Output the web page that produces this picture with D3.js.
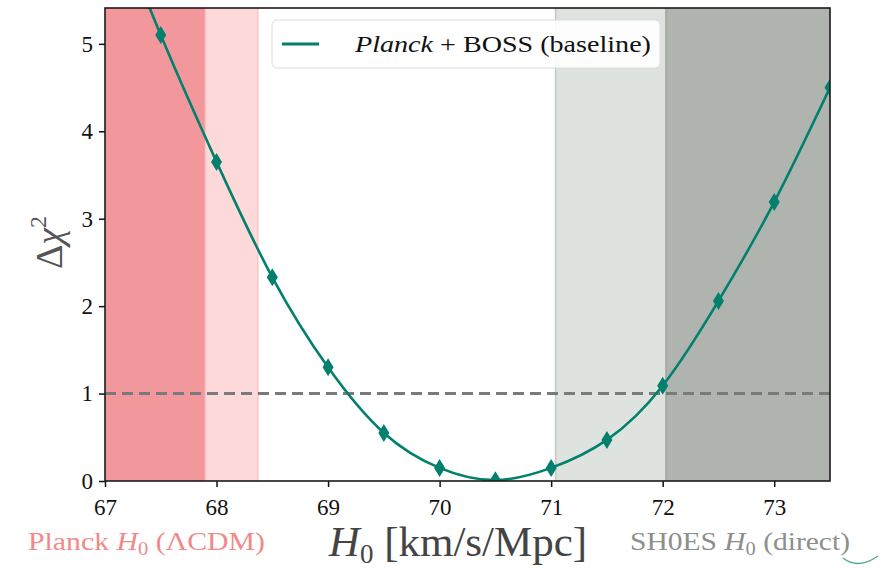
<!DOCTYPE html>
<html>
<head>
<meta charset="utf-8">
<script src="https://cdn.jsdelivr.net/npm/d3@7"></script>
<style>
  body { margin: 0; background: #fff; }
  svg { display: block; }
</style>
</head>
<body>
<svg id="chart" width="886" height="572"></svg>
<script>
// Profile likelihood scan in H0
const h0Grid    = [67.5, 68.0, 68.5, 69.0, 69.5, 70.0, 70.5, 71.0, 71.5, 72.0, 72.5, 73.0, 73.5];
const deltaChi2 = [5.10, 3.65, 2.33, 1.30, 0.55, 0.15, 0.01, 0.15, 0.47, 1.09, 2.06, 3.19, 4.50];

// Smooth fit through the scan, continued a little below the first grid point
const fitH0   = [67.0, 67.5, 68.0, 68.5, 69.0, 69.5, 70.0, 70.5, 71.0, 71.5, 72.0, 72.5, 73.0, 73.5];
const fitChi2 = [6.70, 5.10, 3.65, 2.33, 1.30, 0.55, 0.15, 0.01, 0.15, 0.47, 1.09, 2.06, 3.19, 4.50];

// Reference H0 ranges (inner / outer)
const planckInner = [66.0, 67.90];
const planckOuter = [67.90, 68.37];
const shoesOuter  = [71.04, 72.03];
const shoesInner  = [72.03, 75.0];

const xTicks = [67, 68, 69, 70, 71, 72, 73];
const yTicks = [0, 1, 2, 3, 4, 5];
const xDomain = [67, 73.5];
const yDomain = [0, 5.41];
const thresholdChi2 = 1;

const legendLabel = ["Planck", " + BOSS (baseline)"];

const SERIF = '"Liberation Serif", "Times New Roman", serif';
const W = 886, H = 572;
const margin = { top: 8, right: 56, bottom: 91, left: 105 };
const iw = W - margin.left - margin.right;
const ih = H - margin.top - margin.bottom;

const svg = d3.select("#chart");
const g = svg.append("g").attr("transform", `translate(${margin.left},${margin.top})`);

const x = d3.scaleLinear().domain(xDomain).range([0, iw]);
const y = d3.scaleLinear().domain(yDomain).range([ih, 0]);

g.append("clipPath").attr("id", "plot-clip")
  .append("rect").attr("width", iw).attr("height", ih);

const plot = g.append("g").attr("clip-path", "url(#plot-clip)");

// shaded H0 bands
const bands = [
  { r: planckInner, fill: "#f2989c", edge: "#e8868a" },
  { r: planckOuter, fill: "#fdd9d9", edge: "#f9c3c3" },
  { r: shoesOuter,  fill: "#dfe3df", edge: "#c4c8c4" },
  { r: shoesInner,  fill: "#b0b4ae", edge: "#a1a5a0" }
];
bands.forEach(b => {
  plot.append("rect")
    .attr("x", x(b.r[0])).attr("y", 0)
    .attr("width", x(b.r[1]) - x(b.r[0])).attr("height", ih)
    .attr("fill", b.fill);
  [b.r[0], b.r[1]].forEach(v => {
    plot.append("line")
      .attr("x1", x(v)).attr("x2", x(v)).attr("y1", 0).attr("y2", ih)
      .attr("stroke", b.edge).attr("stroke-width", 1.5);
  });
});

// Δχ² = 1 threshold
plot.append("line")
  .attr("x1", 0).attr("x2", iw)
  .attr("y1", y(thresholdChi2)).attr("y2", y(thresholdChi2))
  .attr("stroke", "#7a7a7a").attr("stroke-width", 3)
  .attr("stroke-dasharray", "11,6");

const teal = "#00806d";

// fitted curve
const fitPts = fitH0.map((h, i) => [h, fitChi2[i]]);
plot.append("path")
  .datum(fitPts)
  .attr("fill", "none")
  .attr("stroke", teal)
  .attr("stroke-width", 2.6)
  .attr("d", d3.line().x(d => x(d[0])).y(d => y(d[1])).curve(d3.curveNatural));

// scan points as thin diamonds
const dw = 5.5, dh = 9;
plot.selectAll("path.pt")
  .data(h0Grid.map((h, i) => [h, deltaChi2[i]]))
  .join("path")
  .attr("class", "pt")
  .attr("transform", d => `translate(${x(d[0])},${y(d[1])})`)
  .attr("d", `M0,${-dh} L${dw},0 L0,${dh} L${-dw},0 Z`)
  .attr("fill", teal);

// axes
const xAxis = g.append("g").attr("transform", `translate(0,${ih})`)
  .call(d3.axisBottom(x).tickValues(xTicks).tickFormat(d3.format("d")).tickSizeOuter(0).tickSize(6).tickPadding(7));
const yAxis = g.append("g")
  .call(d3.axisLeft(y).tickValues(yTicks).tickFormat(d3.format("d")).tickSizeOuter(0).tickSize(6).tickPadding(6));
[xAxis, yAxis].forEach(a => {
  a.attr("font-family", SERIF);
  a.select(".domain").remove();
  a.selectAll(".tick line").attr("stroke", "#111").attr("stroke-width", 1.5);
  a.selectAll(".tick text").attr("font-size", 23).attr("fill", "#111")
    .attr("font-family", SERIF).style("font-family", SERIF);
});
xAxis.selectAll(".tick text").attr("dy", "0.9em");

// frame
g.append("rect").attr("width", iw).attr("height", ih)
  .attr("fill", "none").attr("stroke", "#1a1a1a").attr("stroke-width", 1.6);

// legend
const lg = g.append("g").attr("transform", `translate(${167},${12})`);
lg.append("rect").attr("width", 388).attr("height", 48).attr("rx", 5)
  .attr("fill", "#fff").attr("fill-opacity", 0.9)
  .attr("stroke", "#dcdcdc").attr("stroke-width", 1);
lg.append("line").attr("x1", 10).attr("x2", 47).attr("y1", 24).attr("y2", 24)
  .attr("stroke", teal).attr("stroke-width", 3);
const lt = lg.append("text").attr("x", 83).attr("y", 32)
  .attr("font-size", 23).attr("fill", "#111")
  .style("font-family", SERIF)
  .attr("textLength", 296).attr("lengthAdjust", "spacingAndGlyphs");
lt.append("tspan").attr("font-style", "italic").text(legendLabel[0]);
lt.append("tspan").text(legendLabel[1]);

// y-axis label: Δχ²
const yl = svg.append("text")
  .attr("transform", `translate(62,${margin.top + ih / 2 - 2}) rotate(-90)`)
  .attr("text-anchor", "middle").attr("font-size", 38).attr("fill", "#555")
  .style("font-family", SERIF);
yl.append("tspan").text("Δ");
yl.append("tspan").attr("font-style", "italic").text("χ");
yl.append("tspan").attr("font-size", 24).attr("dy", -16).text("2");

// x-axis label: H0 [km/s/Mpc]
const xl = svg.append("text")
  .attr("x", 458).attr("y", 556)
  .attr("text-anchor", "middle").attr("font-size", 43).attr("fill", "#444")
  .style("font-family", SERIF);
xl.append("tspan").attr("font-style", "italic").text("H");
xl.append("tspan").attr("font-size", 27).attr("dy", 7).text("0");
xl.append("tspan").attr("dy", -7).text(" [km/s/Mpc]");

// reference annotations under the axis
function refLabel(xPos, color, pre, post, len) {
  const t = svg.append("text").attr("x", xPos).attr("y", 550)
    .attr("font-size", 26).attr("fill", color)
    .style("font-family", SERIF)
    .attr("textLength", len).attr("lengthAdjust", "spacingAndGlyphs");
  t.append("tspan").text(pre);
  t.append("tspan").attr("font-style", "italic").text("H");
  t.append("tspan").attr("font-size", 18).attr("dy", 5).text("0");
  t.append("tspan").attr("dy", -5).text(post);
}
refLabel(28, "#f08a8a", "Planck ", " (ΛCDM)", 237);
refLabel(630, "#8c908c", "SH0ES ", " (direct)", 220);

// small pen stroke near the corner
svg.append("path")
  .attr("d", "M843,558 Q858,570 878,556")
  .attr("fill", "none").attr("stroke", "#4aa59a").attr("stroke-width", 1.3);
</script>
</body>
</html>
